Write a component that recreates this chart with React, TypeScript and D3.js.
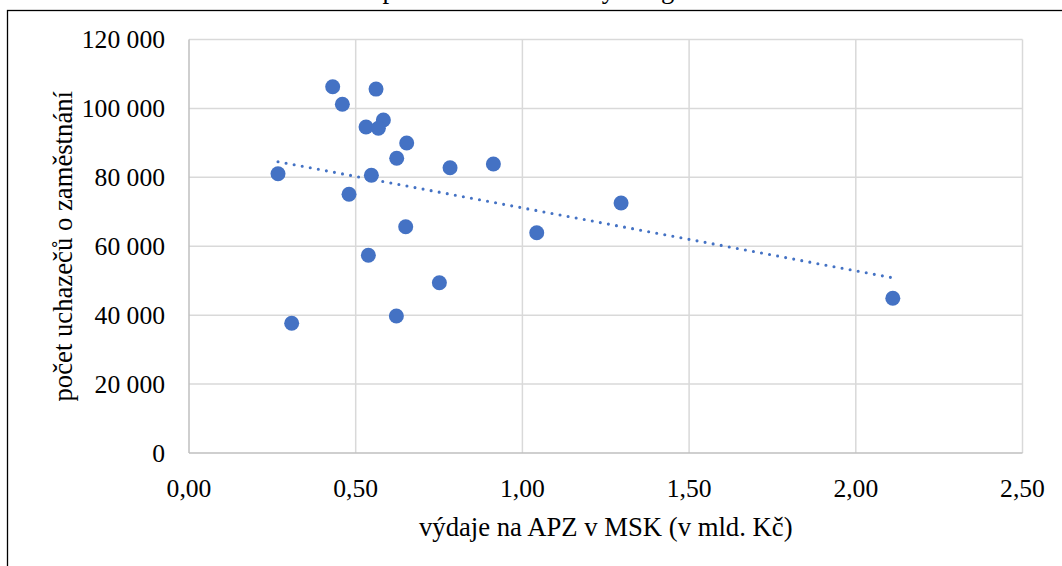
import React from 'react';
import * as d3 from 'd3';

const W = 1062;
const H = 566;

// výdaje na APZ v MSK (v mld. Kč)
const spending = [0.431, 0.46, 0.561, 0.583, 0.531, 0.568, 0.653, 0.623, 0.783, 0.913, 0.267, 0.547, 0.48, 0.65, 1.043, 0.538, 0.751, 0.622, 0.308, 1.296, 2.111];
// počet uchazečů o zaměstnání
const applicants = [106300, 101200, 105600, 96640, 94600, 94230, 89960, 85520, 82800, 83870, 81050, 80590, 75080, 65670, 63930, 57370, 49420, 39760, 37640, 72550, 44890];

const xTicks = [0, 0.5, 1, 1.5, 2, 2.5];
const xTickLabels = ['0,00', '0,50', '1,00', '1,50', '2,00', '2,50'];
const yTicks = [0, 20000, 40000, 60000, 80000, 100000, 120000];
const yTickLabels = ['0', '20 000', '40 000', '60 000', '80 000', '100 000', '120 000'];

const titleText = 'Závislost počtu uchazečů: body a regrese';
const xTitle = 'výdaje na APZ v MSK (v mld. Kč)';
const yTitle = 'počet uchazečů o zaměstnání';

const FONT = '"Liberation Serif", "Times New Roman", serif';

export default function App() {
  const left = 189, right = 1022.5, top = 39.5, bottom = 453;
  const x = d3.scaleLinear().domain([0, 2.5]).range([left, right]);
  const y = d3.scaleLinear().domain([0, 120000]).range([bottom, top]);

  const n = spending.length;
  const mx = d3.mean(spending) as number;
  const my = d3.mean(applicants) as number;
  let sxy = 0, sxx = 0;
  for (let i = 0; i < n; i++) {
    sxy += (spending[i] - mx) * (applicants[i] - my);
    sxx += (spending[i] - mx) ** 2;
  }
  const slope = sxy / sxx;
  const icpt = my - slope * mx;
  const [x0, x1] = d3.extent(spending) as [number, number];
  const trend = d3.line<number>().x(d => x(d)).y(d => y(icpt + slope * d))([x0, x1]) as string;

  return (
    <svg width={W} height={H} style={{ position: 'absolute', left: 0, top: 0, background: '#fff' }}>
      <rect x={0} y={0} width={W} height={H} fill="#fff" />
      <text x={278} y={-2} fontFamily={FONT} fontSize={26.7} fill="#000">{titleText}</text>
      <rect x={7.5} y={10.5} width={W + 20} height={H + 20} fill="none" stroke="#000" strokeWidth={1.3} />
      {yTicks.map((t, i) => (
        <g key={'y' + i}>
          {t !== 0 && <line x1={left} x2={right} y1={y(t)} y2={y(t)} stroke="#d9d9d9" strokeWidth={1.5} />}
          <text x={165} y={y(t)} dy="0.34em" textAnchor="end" fontFamily={FONT} fontSize={25.6} fill="#000">{yTickLabels[i]}</text>
        </g>
      ))}
      {xTicks.map((t, i) => (
        <g key={'x' + i}>
          {t !== 0 && <line x1={x(t)} x2={x(t)} y1={top} y2={bottom} stroke="#d9d9d9" strokeWidth={1.5} />}
          <text x={x(t)} y={497} textAnchor="middle" fontFamily={FONT} fontSize={25.6} fill="#000">{xTickLabels[i]}</text>
        </g>
      ))}
      <line x1={left} x2={left} y1={top} y2={bottom} stroke="#bfbfbf" strokeWidth={1.5} />
      <line x1={left} x2={right} y1={bottom} y2={bottom} stroke="#bfbfbf" strokeWidth={1.5} />
      {spending.map((v, i) => (
        <circle key={'p' + i} cx={x(v)} cy={y(applicants[i])} r={7.5} fill="#4472C4" />
      ))}
      <path d={trend} fill="none" stroke="#4472C4" strokeWidth={3.1} strokeLinecap="round" strokeDasharray="0 8.2" />
      <text x={(left + right) / 2} y={536} textAnchor="middle" fontFamily={FONT} fontSize={26.7} fill="#000">{xTitle}</text>
      <text transform={`translate(72, ${(top + bottom) / 2}) rotate(-90)`} textAnchor="middle" fontFamily={FONT} fontSize={26.7} fill="#000">{yTitle}</text>
    </svg>
  );
}
